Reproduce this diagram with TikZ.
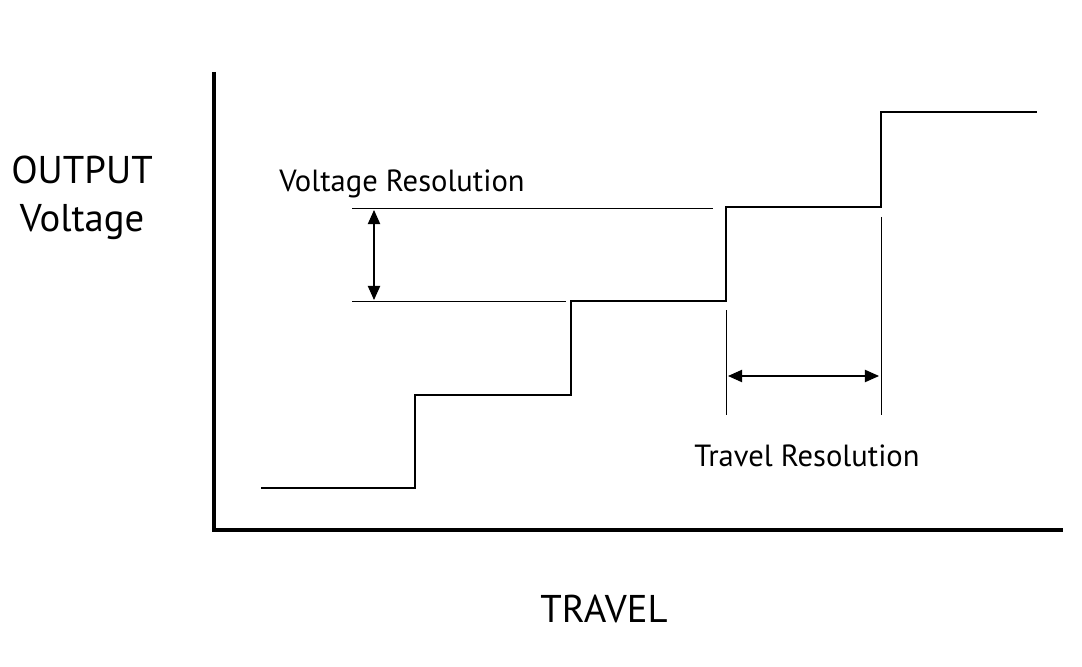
\documentclass[tikz,border=0pt]{standalone}
\usepackage{fontspec}
\setmainfont{PT Sans}
\usetikzlibrary{arrows.meta}
\begin{document}
\begin{tikzpicture}[x=0.01cm,y=-0.01cm,
  axis/.style={line width=1.2pt},
  stair/.style={line width=0.8pt},
  thin/.style={line width=0.25pt},
  dim/.style={line width=0.3pt,{Triangle[length=4pt,width=3.5pt]}-{Triangle[length=4pt,width=3.5pt]}},
  lbl/.style={font=\fontsize{8.7pt}{10pt}\selectfont},
  big/.style={font=\fontsize{11pt}{13.5pt}\selectfont,align=center}]
\useasboundingbox (0,0) rectangle (1082,667);
\coordinate (ytop) at (214,72);
\coordinate (orig) at (214,530);
\coordinate (xend) at (1063,530);
\draw[axis] (ytop) -- (orig) -- (xend);
\coordinate (s0) at (261,488);
\coordinate (s1) at (415,488);
\coordinate (s2) at (415,395);
\coordinate (s3) at (571,395);
\coordinate (s4) at (571,301);
\coordinate (s5) at (726,301);
\coordinate (s6) at (726,207);
\coordinate (s7) at (881,207);
\coordinate (s8) at (881,112);
\coordinate (s9) at (1037,112);
\draw[stair] (s0)--(s1)--(s2)--(s3)--(s4)--(s5)--(s6)--(s7)--(s8)--(s9);
\coordinate (h1a) at (352,208); \coordinate (h1b) at (713,208);
\coordinate (h2a) at (352,301); \coordinate (h2b) at (566,301);
\draw[thin] (h1a)--(h1b);
\draw[thin] (h2a)--(h2b);
\coordinate (va) at (374,210); \coordinate (vb) at (374,300);
\draw[dim] (va)--(vb);
\coordinate (t1a) at (726,310); \coordinate (t1b) at (726,415);
\coordinate (t2a) at (881,217); \coordinate (t2b) at (881,415);
\draw[thin] (t1a)--(t1b);
\draw[thin] (t2a)--(t2b);
\coordinate (ha) at (728,376); \coordinate (hb) at (879,376);
\draw[dim] (ha)--(hb);
\node[big] (ylab) at (82,198) {OUTPUT\\Voltage};
\node[lbl] (vres) at (402,184) {Voltage Resolution};
\node[lbl] (tres) at (807,456) {Travel Resolution};
\node[big] (xlab) at (604,609) {TRAVEL};
\end{tikzpicture}
\end{document}
